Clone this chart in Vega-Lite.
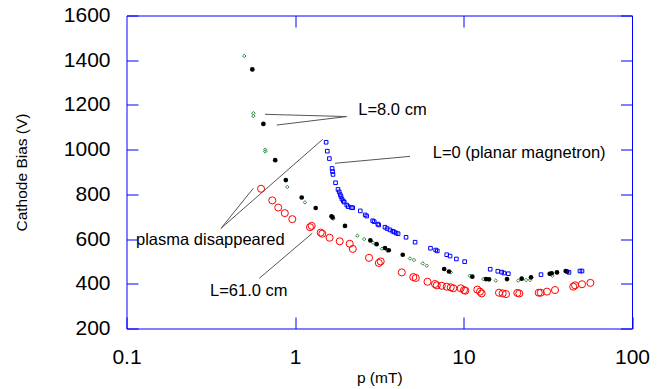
{
  "$schema": "https://vega.github.io/schema/vega-lite/v6.json",
  "width": 505.5,
  "height": 313,
  "autosize": {"type": "none"},
  "padding": {"left": 126.5, "top": 15.5, "right": 25, "bottom": 60.5},
  "background": "white",
  "config": {
    "view": {"stroke": "#0000ff", "strokeWidth": 1},
    "font": "Liberation Sans",
    "axis": {
      "grid": false,
      "domain": false,
      "tickColor": "#0000ff",
      "tickWidth": 1,
      "tickSize": -11.5,
      "labelFont": "Liberation Sans",
      "labelFontSize": 21,
      "labelColor": "#000000",
      "titleFont": "Liberation Sans",
      "titleFontSize": 15.5,
      "titleFontWeight": "normal",
      "titleColor": "#000000",
      "labelFlush": false
    }
  },
  "datasets": {
    "pts": [
      {"s": "planar", "p": 1.53, "v": 1033}, {"s": "planar", "p": 1.555, "v": 993}, {"s": "planar", "p": 1.60, "v": 960}, {"s": "planar", "p": 1.66, "v": 916}, {"s": "planar", "p": 1.67, "v": 902}, {"s": "planar", "p": 1.68, "v": 889}, {"s": "planar", "p": 1.74, "v": 852}, {"s": "planar", "p": 1.80, "v": 822}, {"s": "planar", "p": 1.83, "v": 811}, {"s": "planar", "p": 1.855, "v": 799}, {"s": "planar", "p": 1.875, "v": 790}, {"s": "planar", "p": 1.90, "v": 779}, {"s": "planar", "p": 1.935, "v": 770}, {"s": "planar", "p": 1.96, "v": 765}, {"s": "planar", "p": 2.03, "v": 752}, {"s": "planar", "p": 2.07, "v": 745}, {"s": "planar", "p": 2.16, "v": 741}, {"s": "planar", "p": 2.20, "v": 740}, {"s": "planar", "p": 2.44, "v": 726}, {"s": "planar", "p": 2.61, "v": 708}, {"s": "planar", "p": 2.665, "v": 703}, {"s": "planar", "p": 2.89, "v": 682}, {"s": "planar", "p": 2.95, "v": 678}, {"s": "planar", "p": 3.10, "v": 667}, {"s": "planar", "p": 3.14, "v": 663}, {"s": "planar", "p": 3.42, "v": 653}, {"s": "planar", "p": 3.52, "v": 647}, {"s": "planar", "p": 3.66, "v": 641}, {"s": "planar", "p": 3.80, "v": 635}, {"s": "planar", "p": 3.88, "v": 632}, {"s": "planar", "p": 3.98, "v": 627}, {"s": "planar", "p": 4.09, "v": 624}, {"s": "planar", "p": 4.56, "v": 608}, {"s": "planar", "p": 5.16, "v": 586}, {"s": "planar", "p": 6.37, "v": 559}, {"s": "planar", "p": 6.84, "v": 551}, {"s": "planar", "p": 6.99, "v": 547}, {"s": "planar", "p": 7.95, "v": 530}, {"s": "planar", "p": 8.32, "v": 524}, {"s": "planar", "p": 9.07, "v": 511}, {"s": "planar", "p": 10.16, "v": 499}, {"s": "planar", "p": 14.4, "v": 465}, {"s": "planar", "p": 15.98, "v": 456}, {"s": "planar", "p": 16.85, "v": 452}, {"s": "planar", "p": 17.39, "v": 448}, {"s": "planar", "p": 18.45, "v": 445}, {"s": "planar", "p": 28.84, "v": 441}, {"s": "planar", "p": 42.28, "v": 451}, {"s": "planar", "p": 49.1, "v": 457}, {"s": "planar", "p": 50.5, "v": 457},
      {"s": "dot", "p": 0.558, "v": 1359}, {"s": "dot", "p": 0.649, "v": 1115}, {"s": "dot", "p": 0.763, "v": 953}, {"s": "dot", "p": 0.882, "v": 864}, {"s": "dot", "p": 1.096, "v": 786}, {"s": "dot", "p": 1.327, "v": 739}, {"s": "dot", "p": 1.647, "v": 702}, {"s": "dot", "p": 1.67, "v": 697}, {"s": "dot", "p": 1.98, "v": 659}, {"s": "dot", "p": 2.80, "v": 594}, {"s": "dot", "p": 3.05, "v": 577}, {"s": "dot", "p": 3.42, "v": 560}, {"s": "dot", "p": 3.60, "v": 550}, {"s": "dot", "p": 4.36, "v": 530}, {"s": "dot", "p": 7.68, "v": 466}, {"s": "dot", "p": 8.20, "v": 455}, {"s": "dot", "p": 11.28, "v": 432}, {"s": "dot", "p": 13.6, "v": 421}, {"s": "dot", "p": 14.17, "v": 420}, {"s": "dot", "p": 18.12, "v": 421}, {"s": "dot", "p": 22.15, "v": 423}, {"s": "dot", "p": 25.16, "v": 429}, {"s": "dot", "p": 32.48, "v": 445}, {"s": "dot", "p": 33.37, "v": 447}, {"s": "dot", "p": 35.87, "v": 451}, {"s": "dot", "p": 40.42, "v": 457}, {"s": "dot", "p": 41.3, "v": 454},
      {"s": "diamond", "p": 0.50, "v": 1419}, {"s": "diamond", "p": 0.566, "v": 1163}, {"s": "diamond", "p": 0.566, "v": 1150}, {"s": "diamond", "p": 0.666, "v": 1000}, {"s": "diamond", "p": 0.666, "v": 992}, {"s": "diamond", "p": 0.90, "v": 833}, {"s": "diamond", "p": 1.146, "v": 764}, {"s": "diamond", "p": 1.686, "v": 691}, {"s": "diamond", "p": 2.343, "v": 615}, {"s": "diamond", "p": 2.574, "v": 600}, {"s": "diamond", "p": 2.904, "v": 584}, {"s": "diamond", "p": 3.284, "v": 557}, {"s": "diamond", "p": 3.53, "v": 548}, {"s": "diamond", "p": 4.814, "v": 513}, {"s": "diamond", "p": 5.084, "v": 506}, {"s": "diamond", "p": 5.728, "v": 491}, {"s": "diamond", "p": 6.05, "v": 481}, {"s": "diamond", "p": 8.40, "v": 451}, {"s": "diamond", "p": 10.9, "v": 436}, {"s": "diamond", "p": 13.11, "v": 421}, {"s": "diamond", "p": 15.53, "v": 414}, {"s": "diamond", "p": 21.14, "v": 414}, {"s": "diamond", "p": 23.5, "v": 417}, {"s": "diamond", "p": 24.82, "v": 417}, {"s": "diamond", "p": 33.65, "v": 436},
      {"s": "L61", "p": 0.629, "v": 825}, {"s": "L61", "p": 0.733, "v": 773}, {"s": "L61", "p": 0.795, "v": 741}, {"s": "L61", "p": 0.870, "v": 716}, {"s": "L61", "p": 0.964, "v": 689}, {"s": "L61", "p": 1.227, "v": 653}, {"s": "L61", "p": 1.256, "v": 659}, {"s": "L61", "p": 1.421, "v": 629}, {"s": "L61", "p": 1.452, "v": 624}, {"s": "L61", "p": 1.605, "v": 606}, {"s": "L61", "p": 1.842, "v": 590}, {"s": "L61", "p": 2.112, "v": 579}, {"s": "L61", "p": 2.203, "v": 556}, {"s": "L61", "p": 2.749, "v": 516}, {"s": "L61", "p": 3.143, "v": 493}, {"s": "L61", "p": 3.226, "v": 500}, {"s": "L61", "p": 4.303, "v": 451}, {"s": "L61", "p": 5.036, "v": 430}, {"s": "L61", "p": 5.21, "v": 426}, {"s": "L61", "p": 6.115, "v": 409}, {"s": "L61", "p": 6.776, "v": 399}, {"s": "L61", "p": 6.935, "v": 393}, {"s": "L61", "p": 7.425, "v": 391}, {"s": "L61", "p": 7.95, "v": 387}, {"s": "L61", "p": 8.40, "v": 384}, {"s": "L61", "p": 8.70, "v": 380}, {"s": "L61", "p": 9.63, "v": 380}, {"s": "L61", "p": 10.07, "v": 372}, {"s": "L61", "p": 10.25, "v": 369}, {"s": "L61", "p": 12.08, "v": 374}, {"s": "L61", "p": 12.53, "v": 365}, {"s": "L61", "p": 12.82, "v": 357}, {"s": "L61", "p": 16.24, "v": 360}, {"s": "L61", "p": 17.08, "v": 357}, {"s": "L61", "p": 17.87, "v": 354}, {"s": "L61", "p": 20.86, "v": 359}, {"s": "L61", "p": 21.44, "v": 357}, {"s": "L61", "p": 27.95, "v": 360}, {"s": "L61", "p": 28.72, "v": 360}, {"s": "L61", "p": 31.3, "v": 365}, {"s": "L61", "p": 34.91, "v": 372}, {"s": "L61", "p": 44.8, "v": 387}, {"s": "L61", "p": 45.9, "v": 393}, {"s": "L61", "p": 50.5, "v": 398}, {"s": "L61", "p": 56.6, "v": 404}
    ],
    "lines": [
      {"x1": 2.027, "y1": 1148, "x2": 0.664, "y2": 1158},
      {"x1": 2.027, "y1": 1148, "x2": 0.779, "y2": 1110},
      {"x1": 1.727, "y1": 939, "x2": 4.814, "y2": 970},
      {"x1": 0.3637, "y1": 648, "x2": 0.5656, "y2": 827},
      {"x1": 0.3637, "y1": 648, "x2": 1.46, "y2": 1046},
      {"x1": 0.614, "y1": 424.5, "x2": 1.267, "y2": 626}
    ],
    "notes": [
      {"p": 2.375, "v": 1177, "t": "L=8.0 cm"},
      {"p": 6.565, "v": 985, "t": "L=0 (planar magnetron)"},
      {"p": 0.1139, "v": 596, "t": "plasma disappeared"},
      {"p": 0.313, "v": 369, "t": "L=61.0 cm"}
    ]
  },
  "layer": [
    {
      "data": {"name": "lines"},
      "mark": {"type": "rule", "color": "#555555", "strokeWidth": 1},
      "encoding": {
        "x": {"field": "x1", "type": "quantitative", "scale": {"type": "log", "domain": [0.1, 100], "nice": false},
              "axis": {"orient": "top", "values": [1, 10], "labels": false, "title": null}},
        "y": {"field": "y1", "type": "quantitative", "scale": {"domain": [200, 1600], "nice": false, "zero": false},
              "axis": {"orient": "right", "values": [200, 400, 600, 800, 1000, 1200, 1400, 1600], "labels": false, "title": null}},
        "x2": {"field": "x2"},
        "y2": {"field": "y2"}
      }
    },
    {
      "data": {"name": "pts"},
      "transform": [{"filter": "datum.s === 'L61'"}],
      "mark": {"type": "point", "shape": "circle", "filled": false, "stroke": "#ff0000", "strokeWidth": 1, "size": 50, "opacity": 1},
      "encoding": {
        "x": {"field": "p", "type": "quantitative", "scale": {"type": "log", "domain": [0.1, 100], "nice": false},
              "axis": {"orient": "bottom", "values": [0.1, 1, 10, 100], "format": "~g", "labelPadding": 29, "title": "p (mT)", "titleY": 48.5, "titleBaseline": "middle"}},
        "y": {"field": "v", "type": "quantitative", "scale": {"domain": [200, 1600], "nice": false, "zero": false},
              "axis": {"orient": "left", "values": [200, 400, 600, 800, 1000, 1200, 1400, 1600], "format": "d", "labelPadding": 28, "title": "Cathode Bias (V)", "titleX": -105, "titleY": 156.5, "titleBaseline": "middle"}}
      }
    },
    {
      "data": {"name": "pts"},
      "transform": [{"filter": "datum.s === 'diamond'"}],
      "mark": {"type": "point", "shape": "diamond", "filled": false, "stroke": "#2e8b3a", "strokeWidth": 1, "size": 12, "opacity": 1},
      "encoding": {
        "x": {"field": "p", "type": "quantitative", "scale": {"type": "log", "domain": [0.1, 100], "nice": false}, "axis": null},
        "y": {"field": "v", "type": "quantitative", "scale": {"domain": [200, 1600], "nice": false, "zero": false}, "axis": null}
      }
    },
    {
      "data": {"name": "pts"},
      "transform": [{"filter": "datum.s === 'dot'"}],
      "mark": {"type": "point", "shape": "circle", "filled": true, "fill": "#000000", "strokeWidth": 0, "size": 22, "opacity": 1},
      "encoding": {
        "x": {"field": "p", "type": "quantitative", "scale": {"type": "log", "domain": [0.1, 100], "nice": false}, "axis": null},
        "y": {"field": "v", "type": "quantitative", "scale": {"domain": [200, 1600], "nice": false, "zero": false}, "axis": null}
      }
    },
    {
      "data": {"name": "pts"},
      "transform": [{"filter": "datum.s === 'planar'"}],
      "mark": {"type": "point", "shape": "square", "filled": false, "stroke": "#0000ff", "strokeWidth": 1, "size": 13, "opacity": 1},
      "encoding": {
        "x": {"field": "p", "type": "quantitative", "scale": {"type": "log", "domain": [0.1, 100], "nice": false}, "axis": null},
        "y": {"field": "v", "type": "quantitative", "scale": {"domain": [200, 1600], "nice": false, "zero": false}, "axis": null}
      }
    },
    {
      "data": {"name": "notes"},
      "mark": {"type": "text", "align": "left", "baseline": "middle", "fontSize": 16.5, "font": "Liberation Sans", "color": "#000000"},
      "encoding": {
        "x": {"field": "p", "type": "quantitative", "scale": {"type": "log", "domain": [0.1, 100], "nice": false}, "axis": null},
        "y": {"field": "v", "type": "quantitative", "scale": {"domain": [200, 1600], "nice": false, "zero": false}, "axis": null},
        "text": {"field": "t"}
      }
    }
  ],
  "resolve": {"axis": {"x": "independent", "y": "independent"}}
}
